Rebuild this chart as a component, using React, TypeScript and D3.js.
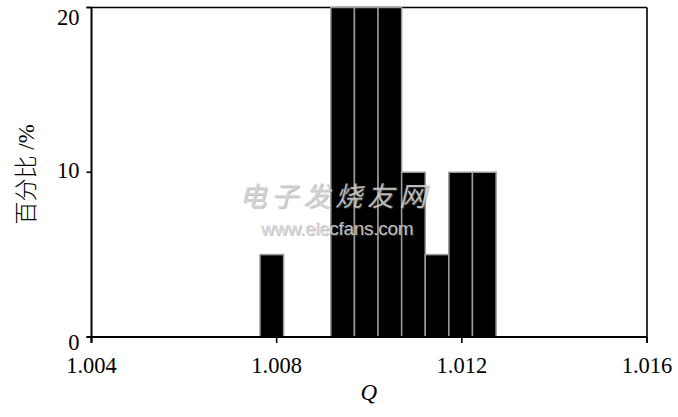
import React from "react";
import * as d3 from "d3";

// Histogram bins (left edge of each bin, Q) and percentages
const binStarts = [1.00764, 1.00815, 1.00866, 1.00917, 1.00968, 1.01019, 1.0107, 1.01121, 1.01172, 1.01223];
const percents = [5, 0, 0, 20, 20, 20, 10, 5, 10, 10];
const binWidth = 0.00051;
const xTicks = [1.004, 1.008, 1.012, 1.016];
const yTicks = [0, 10, 20];
const xLabel = "Q";
const yLabelCn = "百分比";
const yLabelUnit = " /%";
const watermarkCn = "电子发烧友网";
const watermarkEn = "www.elecfans.com";

const W = 678;
const H = 417;
const margin = { left: 91.5, right: 31, top: 7.5, bottom: 80 };

export default function App() {
  const x = d3.scaleLinear().domain([1.004, 1.016]).range([margin.left, W - margin.right]);
  const y = d3.scaleLinear().domain([0, 20]).range([H - margin.bottom, margin.top]);
  const x0 = x.range()[0], x1 = x.range()[1];
  const y0 = y.range()[0], y1 = y.range()[1];
  const serif = "'Liberation Serif', 'Times New Roman', serif";
  const yLabelDy: Record<number, number> = { 0: 13, 10: 6, 20: 17 };

  return (
    <svg width={W} height={H} style={{ position: "absolute", left: 0, top: 0, background: "#fff" }}>
      {/* frame top/right */}
      <line x1={x0 - 5} x2={x1} y1={y1} y2={y1} stroke="#000" strokeWidth={1.6} />
      <line x1={x1} x2={x1} y1={y1} y2={y0 + 6} stroke="#000" strokeWidth={1.6} />
      {/* bars */}
      {binStarts.map((s, i) =>
        percents[i] > 0 ? (
          <rect
            key={i}
            x={x(s)}
            y={y(percents[i])}
            width={x(s + binWidth) - x(s)}
            height={y(0) - y(percents[i])}
            fill="#000"
            stroke="#9a9a9a"
            strokeWidth={1.5}
          />
        ) : null
      )}
      {/* axes */}
      <line x1={x0} x2={x0} y1={y1} y2={y0 + 6} stroke="#000" strokeWidth={2} />
      <line x1={x0 - 5} x2={x1} y1={y0} y2={y0} stroke="#000" strokeWidth={2} />
      {yTicks.map((t) => (
        <g key={"y" + t}>
          <line x1={x0 - 5} x2={x0} y1={y(t)} y2={y(t)} stroke="#000" strokeWidth={1.6} />
          <text x={x0 - 12} y={y(t) + yLabelDy[t]} textAnchor="end" fontFamily={serif} fontSize={22.5} fill="#000">
            {t}
          </text>
        </g>
      ))}
      {xTicks.map((t) => (
        <g key={"x" + t}>
          <line x1={x(t)} x2={x(t)} y1={y0} y2={y0 + 6} stroke="#000" strokeWidth={1.6} />
          <text x={x(t)} y={y0 + 36} textAnchor="middle" fontFamily={serif} fontSize={22.5} fill="#000">
            {t.toFixed(3)}
          </text>
        </g>
      ))}
      <text x={(x0 + x1) / 2 - 0.5} y={H - 17} textAnchor="middle" fontFamily={serif} fontStyle="italic" fontSize={23} fill="#000">
        {xLabel}
      </text>
      <text
        transform={`translate(34, ${(y0 + y1) / 2 + 2}) rotate(-90)`}
        textAnchor="middle"
        fontSize={23}
        fill="#000"
      >
        <tspan fontFamily="'Noto Sans CJK SC', serif" fontWeight={300}>{yLabelCn}</tspan>
        <tspan fontFamily={serif} xmlSpace="preserve">{yLabelUnit}</tspan>
      </text>
      {/* watermark */}
      <g opacity={0.9}>
        <text x={336} y={207} textAnchor="middle" fontFamily="'Noto Sans CJK SC', sans-serif" fontStyle="italic" fontSize={27} letterSpacing={5} fill="#777" opacity={0.5}>
          {watermarkCn}
        </text>
        <text x={335} y={206} textAnchor="middle" fontFamily="'Noto Sans CJK SC', sans-serif" fontStyle="italic" fontSize={27} letterSpacing={5} fill="#cfcfcf">
          {watermarkCn}
        </text>
        <text x={338} y={236} textAnchor="middle" fontFamily="'Liberation Sans', Arial, sans-serif" fontSize={19} letterSpacing={-0.3} fill="#777" opacity={0.5}>
          {watermarkEn}
        </text>
        <text x={337} y={235} textAnchor="middle" fontFamily="'Liberation Sans', Arial, sans-serif" fontSize={19} letterSpacing={-0.3} fill="#d5d5d5">
          {watermarkEn}
        </text>
      </g>
    </svg>
  );
}
